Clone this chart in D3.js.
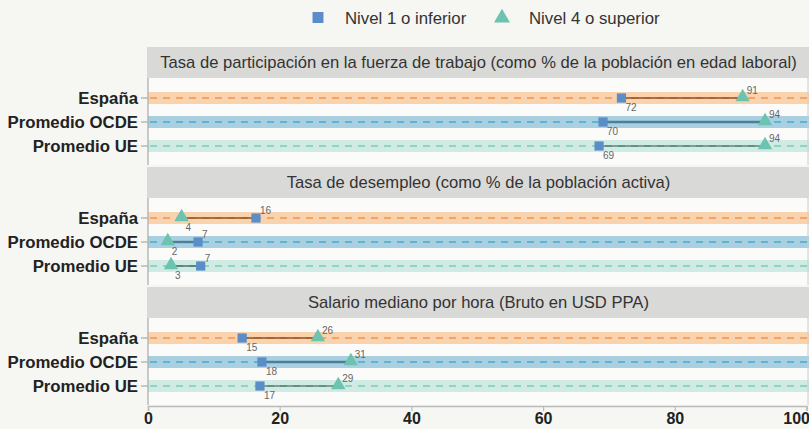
<!DOCTYPE html>
<html>
<head>
<meta charset="utf-8">
<script src="https://cdn.jsdelivr.net/npm/d3@7"></script>
<style>
  body { margin: 0; background: #f6f6f2; }
  svg { display: block; }
</style>
</head>
<body>
<script>
// chart data
var countries = ["España", "Promedio OCDE", "Promedio UE"];
var panelTitles = [
    "Tasa de participación en la fuerza de trabajo (como % de la población en edad laboral)",
    "Tasa de desempleo (como % de la población activa)",
    "Salario mediano por hora (Bruto en USD PPA)"
];
var seriesNames = ["Nivel 1 o inferior", "Nivel 4 o superior"];
// values per panel, one per country
var nivel1 = [[71.9, 69.1, 68.5], [16.4, 7.6, 8.0], [14.3, 17.3, 17.0]];
var nivel4 = [[90.3, 93.7, 93.7], [5.1, 3.0, 3.5], [25.8, 30.8, 28.9]];
var nivel1Labels = [["72", "70", "69"], ["16", "7", "7"], ["15", "18", "17"]];
var nivel4Labels = [["91", "94", "94"], ["4", "2", "3"], ["26", "31", "29"]];
var xTicks = [0, 20, 40, 60, 80, 100];

var W = 809, H = 429;
var svg = d3.select("body").append("svg").attr("width", W).attr("height", H);

var x = d3.scaleLinear().domain([0, 100]).range([148, 806.5]);

var bandFill = { "España": "#f9d3ae", "Promedio OCDE": "#a9d0e0", "Promedio UE": "#d0ebe4" };
var dashCol = { "España": "#f3a365", "Promedio OCDE": "#62b2d2", "Promedio UE": "#8dd5c2" };
var segCol = { "España": "#8f4e22", "Promedio OCDE": "#4d7f9b", "Promedio UE": "#2f5247" };
var segW = { "España": 1.4, "Promedio OCDE": 2.4, "Promedio UE": 1.2 };
var sqCol = "#5b8ec9", triCol = "#6cc4b0";
var font = "Liberation Sans, Arial, sans-serif";

var panelTop = [47, 167, 287];
var headerH = 31, bodyH = 87;

var y = d3.scalePoint().domain(countries).range([20, 68]);

var sq = d3.symbol().type(d3.symbolSquare).size(85);
var tri = d3.symbol().type(d3.symbolTriangle).size(90);

// legend
var leg = svg.append("g").attr("font-family", font).attr("font-size", 16.8).attr("fill", "#333");
leg.append("path").attr("d", d3.symbol().type(d3.symbolSquare).size(120)()).attr("transform", "translate(318,17.5)").attr("fill", sqCol);
leg.append("text").attr("x", 345).attr("y", 23.5).text(seriesNames[0]);
leg.append("path").attr("d", d3.symbol().type(d3.symbolTriangle).size(110)()).attr("transform", "translate(502,18)").attr("fill", triCol);
leg.append("text").attr("x", 529).attr("y", 23.5).text(seriesNames[1]);

panelTitles.forEach(function(title, p) {
    var top = panelTop[p];
    var g = svg.append("g");
    // header
    g.append("rect").attr("x", x(0) - 1).attr("y", top).attr("width", W - x(0) + 1).attr("height", headerH)
        .attr("fill", "#d9d9d8");
    g.append("text").attr("x", (x(0) + W) / 2).attr("y", top + 21).attr("text-anchor", "middle")
        .attr("font-family", font).attr("font-size", 16.6)
        .attr("fill", "#333").text(title);

    var body = g.append("g").attr("transform", "translate(0," + (top + headerH) + ")");
    body.append("rect").attr("x", x(0)).attr("y", 0).attr("width", W - x(0)).attr("height", bodyH)
        .attr("fill", "#fbfbf9");

    countries.forEach(function(c, i) {
        var cy = y(c);
        body.append("rect").attr("x", x(0)).attr("y", cy - 6).attr("width", W - x(0)).attr("height", 12)
            .attr("fill", bandFill[c]);
        body.append("line").attr("x1", x(0) + 2).attr("x2", W).attr("y1", cy).attr("y2", cy)
            .attr("stroke", dashCol[c]).attr("stroke-width", 2).attr("stroke-dasharray", "7,6");
        // y tick + label
        body.append("line").attr("x1", x(0) - 7).attr("x2", x(0)).attr("y1", cy).attr("y2", cy)
            .attr("stroke", "#999").attr("stroke-width", 1);
        body.append("text").attr("x", x(0) - 10).attr("y", cy + 6).attr("text-anchor", "end")
            .attr("font-family", font).attr("font-weight", "bold")
            .attr("font-size", 16.8).attr("fill", "#222").text(c);

        var v1 = nivel1[p][i], v4 = nivel4[p][i];
        body.append("line").attr("x1", x(v1)).attr("x2", x(v4)).attr("y1", cy).attr("y2", cy)
            .attr("stroke", segCol[c]).attr("stroke-width", segW[c]);
        body.append("path").attr("d", tri()).attr("transform", "translate(" + x(v4) + "," + (cy - 1) + ")")
            .attr("fill", triCol);
        body.append("path").attr("d", sq()).attr("transform", "translate(" + x(v1) + "," + cy + ")")
            .attr("fill", sqCol);

        // value labels: higher value above-right, lower value below-right
        var hiIsN4 = v4 > v1;
        var pts = [
            { v: v1, t: nivel1Labels[p][i], hi: !hiIsN4 },
            { v: v4, t: nivel4Labels[p][i], hi: hiIsN4 }
        ];
        pts.forEach(function(d) {
            body.append("text").attr("x", x(d.v) + 4).attr("y", d.hi ? cy - 4 : cy + 12.5)
                .attr("font-family", font).attr("font-size", 10)
                .attr("fill", "#666").text(d.t);
        });
    });

    // panel borders
    body.append("line").attr("x1", x(0)).attr("x2", x(0)).attr("y1", 0).attr("y2", bodyH)
        .attr("stroke", "#aaa").attr("stroke-width", 1.2);
    body.append("line").attr("x1", W - 1).attr("x2", W - 1).attr("y1", 0).attr("y2", bodyH)
        .attr("stroke", "#ccc").attr("stroke-width", 1);
});

// x axis
var axisY = panelTop[2] + headerH + bodyH + 1;
var ax = svg.append("g").attr("transform", "translate(0," + axisY + ")")
    .call(d3.axisBottom(x).tickValues(xTicks).tickSize(5).tickPadding(2).tickFormat(d3.format("d")));
ax.select(".domain").attr("stroke", "#bbb").attr("stroke-width", 1.5);
ax.selectAll(".tick line").attr("stroke", "#bbb").attr("stroke-width", 1.2);
ax.selectAll(".tick text").attr("font-family", font)
    .attr("font-weight", "bold").attr("font-size", 16).attr("fill", "#222");
ax.selectAll(".tick").filter(function(d) { return d === 100; }).select("text").attr("text-anchor", "end").attr("dx", 3);
</script>
</body>
</html>
